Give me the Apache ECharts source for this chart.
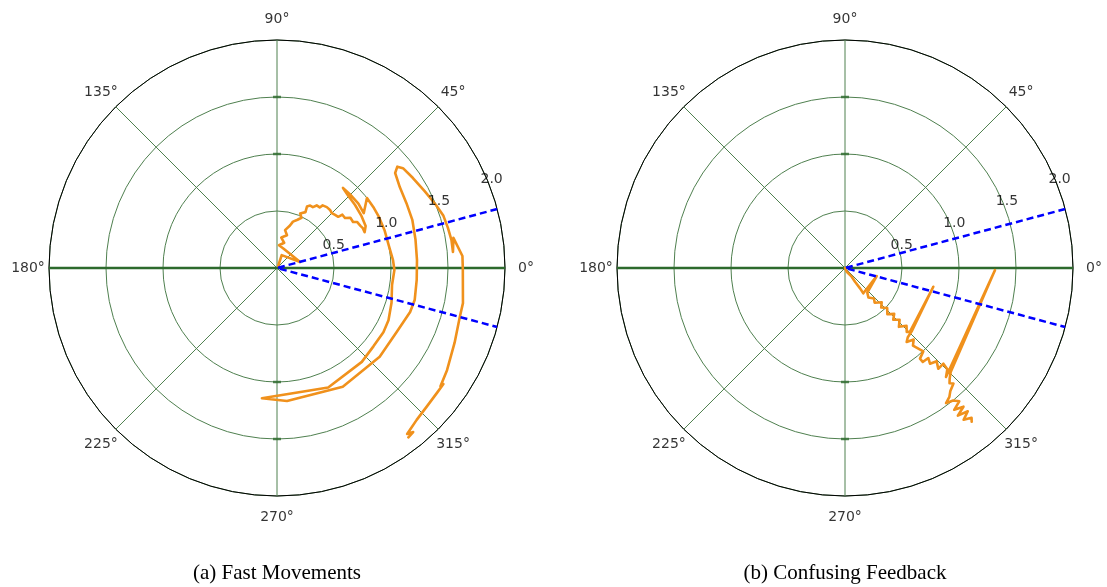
<!DOCTYPE html>
<html>
<head>
<meta charset="utf-8">
<script src="https://cdn.jsdelivr.net/npm/echarts@6/dist/echarts.min.js"></script>
<style>
  html, body { margin: 0; padding: 0; background: #fff; }
  #chart { width: 1107px; height: 587px; }
</style>
</head>
<body>
<div id="chart"></div>
<script>
// Angular tick values, degrees
const angleTicks = [0, 45, 90, 135, 180, 225, 270, 315];
// Radial tick values (labelled along the 22.5° direction)
const radiusTicks = [0.5, 1.0, 1.5, 2.0];
// Rings that carry a short tick mark on the vertical axis
const ringMarks = [1.0, 1.5];
// Dashed boundary directions, degrees
const boundaryAngles = [15, 345];
// Panel captions
const panelTitles = ['(a) Fast Movements', '(b) Confusing Feedback'];

// Trajectory samples as [radius, angle in degrees]
const fastPath = [
  [0.02, 60], [0.12, 70], [0.21, 14.6], [0.18, 72], [0.20, 85], [0.23, 74], [0.27, 82], [0.30, 73],
  [0.34, 78], [0.39, 73], [0.43, 71], [0.46, 67], [0.49, 64], [0.52, 67], [0.55, 63], [0.60, 64],
  [0.62, 62], [0.62, 59.5], [0.65, 57.6], [0.65, 54.8], [0.68, 53.9], [0.69, 50.7], [0.69, 47.6],
  [0.68, 45], [0.69, 42.4], [0.70, 39.9], [0.74, 39.2], [0.74, 36.3], [0.78, 34.4], [0.78, 31.2],
  [0.81, 29.9], [0.82, 26.8], [0.83, 24.9], [0.83, 22.2], [0.84, 20.7],
  [0.86, 25.3], [0.87, 31.5], [0.88, 38.9], [0.89, 45.4], [0.91, 50.5],
  [0.91, 45.4], [0.91, 38.3], [0.90, 32.3], [1.00, 37.9],
  [1.00, 32.4], [1.00, 26.6], [1.00, 19.4], [1.00, 11.6], [1.02, 3.9], [1.03, 359], [1.02, 351.6],
  [1.05, 343.1], [1.08, 334.9], [1.09, 328.9], [1.09, 320.9], [1.11, 312.1], [1.14, 293.2], [1.15, 263.4],
  [1.17, 274.3], [1.19, 299], [1.19, 319.2], [1.19, 331.9], [1.23, 341.7], [1.24, 346.9], [1.23, 355.1],
  [1.23, 3.3], [1.24, 11.5], [1.26, 19.6], [1.27, 26.6], [1.29, 33.4], [1.33, 38.8], [1.38, 40.1], [1.41, 38.4],
  [1.43, 33.5], [1.46, 27.5], [1.50, 21.6], [1.53, 17.4], [1.54, 13.2], [1.55, 9.1], [1.55, 5.2], [1.57, 9.7],
  [1.63, 3.7], [1.63, 0], [1.66, 349.3], [1.66, 345], [1.69, 337.2], [1.74, 329], [1.77, 324.1],
  [1.78, 325.1], [1.78, 322.2], [1.79, 317.2], [1.81, 312.6], [1.85, 308.1], [1.87, 309.7], [1.88, 307.8]
];

const confusingPath = [
  [0.0, 0], [0.036, 295], [0.096, 307.6], [0.149, 306.1], [0.222, 306.5], [0.274, 305.9],
  [0.287, 345.8], [0.292, 312.1],
  [0.33, 308.5], [0.37, 313.5], [0.40, 310.5], [0.44, 317], [0.47, 312.5], [0.51, 316.5],
  [0.55, 312.5], [0.59, 317], [0.62, 313], [0.66, 316.5], [0.70, 312.5], [0.74, 316.8],
  [0.78, 314], [0.798, 315.6],
  [0.792, 348], [0.805, 316.9],
  [0.82, 312.2], [0.845, 309.8], [0.87, 313.8], [0.905, 311.2], [0.956, 312.3], [1.003, 313.2],
  [1.032, 309.6], [1.07, 309.6], [1.076, 312.8], [1.123, 311.6], [1.147, 314.5], [1.204, 312.8],
  [1.204, 315.8], [1.263, 315.3], [1.304, 312.8],
  [1.316, 359.2], [1.30, 315.5],
  [1.336, 313.4], [1.365, 312.2], [1.39, 313.2], [1.42, 310.6], [1.455, 309.0], [1.48, 306.8],
  [1.50, 309.2], [1.54, 310.6], [1.57, 307.6], [1.60, 310.5], [1.63, 307.4], [1.655, 310.6],
  [1.69, 308.0], [1.72, 310.2], [1.747, 309.5]
];

const paths = [fastPath, confusingPath];
const centers = [[277, 268], [845, 268]];
const PLOT_R = 228;           // outer ring radius, px
const LABEL_R = 249;          // angular label centre distance, px
const R_MAX = radiusTicks[radiusTicks.length - 1];

const GRID_GREEN = '#4f804f';
const AXIS_GREEN = '#2d6a2d';
const ORANGE = '#f0911c';
const tickFont = { fontFamily: 'DejaVu Sans', fontSize: 14, color: '#000' };

const polar = [], angleAxis = [], radiusAxis = [], series = [], graphic = [];

paths.forEach((path, i) => {
  polar.push({ center: centers[i], radius: PLOT_R });

  angleAxis.push({
    polarIndex: i, type: 'value', min: 0, max: 360, interval: 45,
    startAngle: 0, clockwise: false,
    axisLine: { lineStyle: { color: '#000', width: 1 } },
    axisTick: { show: false },
    axisLabel: { show: false },
    splitLine: { show: false }
  });

  radiusAxis.push({
    polarIndex: i, type: 'value', min: 0, max: R_MAX, interval: 0.5,
    axisLine: { show: false }, axisTick: { show: false }, axisLabel: { show: false },
    splitLine: { lineStyle: { color: [GRID_GREEN], width: 1 } }
  });

  // radial grid lines: one diameter per pair of opposite angular ticks
  angleTicks.filter(a => a < 180).forEach(a => {
    series.push({
      type: 'line', coordinateSystem: 'polar', polarIndex: i, silent: true,
      data: [[R_MAX, a], [R_MAX, a + 180]], showSymbol: false, symbol: 'none',
      lineStyle: a === 0 ? { color: AXIS_GREEN, width: 2.5 } : { color: GRID_GREEN, width: 1 },
      z: a === 0 ? 3 : 1
    });
  });

  // short marks where rings cross the vertical axis
  series.push({
    type: 'scatter', coordinateSystem: 'polar', polarIndex: i, silent: true,
    data: ringMarks.flatMap(r => [[r, 90], [r, 270]]),
    symbol: 'rect', symbolSize: [8, 2.5],
    itemStyle: { color: AXIS_GREEN }, z: 3
  });

  // trajectory
  series.push({
    type: 'line', coordinateSystem: 'polar', polarIndex: i, silent: true,
    data: path, showSymbol: false, symbol: 'none', smooth: false,
    lineStyle: { color: ORANGE, width: 2.6, join: 'round', cap: 'round' }, z: 4
  });

  // dashed boundaries
  series.push({
    type: 'line', coordinateSystem: 'polar', polarIndex: i, silent: true,
    data: [[R_MAX, boundaryAngles[0]], [0, 0], [R_MAX, boundaryAngles[1]]],
    showSymbol: false, symbol: 'none',
    lineStyle: { color: '#0000ff', width: 2.5, type: [7, 4] }, z: 5
  });

  // radial tick labels
  series.push({
    type: 'scatter', coordinateSystem: 'polar', polarIndex: i, silent: true,
    data: radiusTicks.map(v => [v, 22.5]), symbolSize: 0,
    label: Object.assign({
      show: true, position: 'inside', offset: [4, -1],
      formatter: p => p.value[0].toFixed(1)
    }, tickFont),
    z: 6
  });

  // angular tick labels, centred just outside the outer ring
  series.push({
    type: 'scatter', coordinateSystem: 'polar', polarIndex: i, silent: true,
    clip: false,
    data: angleTicks.map(a => [R_MAX * LABEL_R / PLOT_R, a]), symbolSize: 0,
    label: Object.assign({
      show: true, position: 'inside',
      formatter: p => p.value[1] + '°'
    }, tickFont),
    z: 6
  });

  graphic.push({
    type: 'text', x: centers[i][0], y: 573, silent: true,
    style: {
      text: panelTitles[i], fill: '#000',
      font: '21px "Liberation Serif", "Times New Roman", serif',
      align: 'center', verticalAlign: 'middle'
    }
  });
});

const chart = echarts.init(document.getElementById('chart'), null, { renderer: 'canvas' });
chart.setOption({
  animation: false,
  backgroundColor: '#fff',
  polar, angleAxis, radiusAxis, series, graphic
});
</script>
</body>
</html>
